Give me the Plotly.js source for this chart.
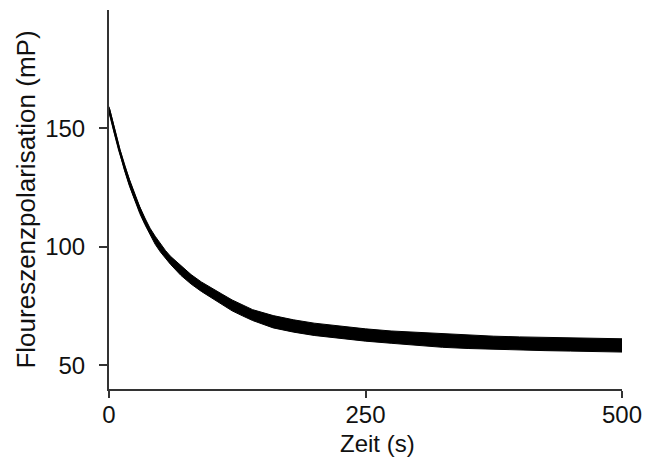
<!DOCTYPE html>
<html>
<head>
<meta charset="utf-8">
<script src="https://cdn.plot.ly/plotly-3.0.1.min.js"></script>
<style>html,body{margin:0;padding:0;background:#fff;}#chart{width:645px;height:459px;}</style>
</head>
<body>
<div id="chart"></div>
<script>
// time (s)
var timeS = [0,2,5,10,15,20,25,30,35,40,45,50,55,60,70,80,90,100,110,120,130,140,160,180,200,225,250,275,300,325,350,375,400,425,450,475,500];
// central trace (mP)
var polCenter = [158,155,149.5,141,133.5,127,121,115.5,110.8,106.5,102.8,99.6,96.8,94.3,90,86.3,83.2,80.5,77.8,75.3,73.2,71.2,68.4,66.6,65.2,63.9,62.8,61.9,61.1,60.4,59.9,59.5,59.2,59,58.8,58.6,58.4];
// upper and lower envelope of the noisy trace (mP)
var polUpper = [159.2,156.1,150.6,142.1,134.6,128.4,122.4,116.9,112.2,107.9,104.5,101.3,98.5,96,92,88.3,85.2,82.5,80.1,77.6,75.5,73.5,71,69.2,67.8,66.5,65.4,64.5,63.9,63.2,62.7,62.3,62,61.8,61.6,61.4,61.2];
var polLower = [156.8,153.9,148.4,139.9,132.4,125.6,119.6,114.1,109.4,105.1,101.1,97.9,95.1,92.6,88,84.3,81.2,78.5,75.5,73,70.9,68.9,65.8,64,62.6,61.3,60.2,59.3,58.3,57.6,57.1,56.7,56.4,56.2,56,55.8,55.6];
var xTicks = [0,250,500];
var yTicks = [50,100,150];
var xTitle = 'Zeit (s)';
var yTitle = 'Floureszenzpolarisation (mP)';

var traces = [
  {x: timeS, y: polLower, type: 'scatter', mode: 'lines', line: {color: '#000', width: 1}, hoverinfo: 'skip', showlegend: false},
  {x: timeS, y: polUpper, type: 'scatter', mode: 'lines', fill: 'tonexty', fillcolor: '#000', line: {color: '#000', width: 1}, hoverinfo: 'skip', showlegend: false},
  {x: timeS, y: polCenter, type: 'scatter', mode: 'lines', line: {color: '#000', width: 2.5}, showlegend: false}
];

var fam = 'Liberation Sans, Arial, sans-serif';
var tickFont = {family: fam, size: 24, color: '#111'};
var titleFont = {family: fam, size: 26, color: '#111'};
var xTitleFont = {family: fam, size: 24, color: '#111'};
var layout = {
  width: 645, height: 459,
  margin: {l: 109, r: 23, t: 10, b: 70},
  paper_bgcolor: '#fff', plot_bgcolor: '#fff',
  font: tickFont,
  showlegend: false,
  xaxis: {
    range: [0, 500], tickvals: xTicks, ticktext: xTicks.map(String),
    showgrid: false, zeroline: false, showline: true, linecolor: '#333', linewidth: 2,
    ticks: 'outside', ticklen: 7, tickwidth: 2, tickcolor: '#333',
    tickfont: tickFont, ticklabelstandoff: -4
  },
  yaxis: {
    range: [40, 200], tickvals: yTicks, ticktext: yTicks.map(String),
    showgrid: false, zeroline: false, showline: true, linecolor: '#333', linewidth: 2,
    ticks: 'outside', ticklen: 8, tickwidth: 2, tickcolor: '#333',
    tickfont: tickFont, ticklabelstandoff: 9,
    title: {text: yTitle, font: titleFont, standoff: 2}
  },
  annotations: [
    {text: xTitle, xref: 'paper', yref: 'paper', x: 0.524, y: -0.1029, xanchor: 'center', yanchor: 'top', showarrow: false, font: xTitleFont}
  ]
};
Plotly.newPlot('chart', traces, layout, {staticPlot: true, displayModeBar: false});
</script>
</body>
</html>
